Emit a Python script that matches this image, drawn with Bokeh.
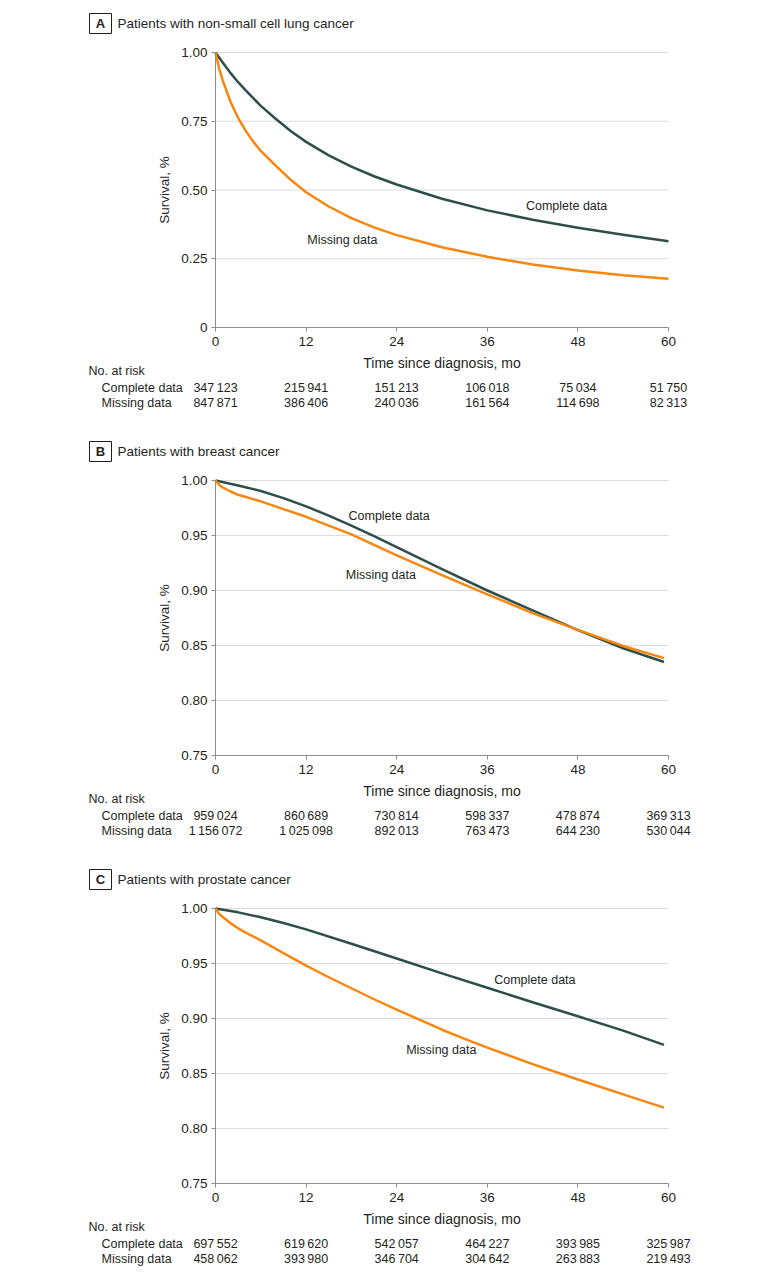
from bokeh.plotting import figure
from bokeh.layouts import column
from bokeh.models import (Range1d, FixedTicker, CustomJSTickFormatter, LinearAxis)
from bokeh.core.properties import value
from bokeh.embed import file_html
from bokeh.resources import INLINE

# ---------------- data ----------------
risk_times = [0, 12, 24, 36, 48, 60]
row_names = ["Complete data", "Missing data"]

a_title = "Patients with non-small cell lung cancer"
a_complete_t = [0, 1, 2, 3, 4, 5, 6, 8, 10, 12, 15, 18, 21, 24, 30, 36, 42, 48, 54, 60]
a_complete_s = [1.0, 0.962, 0.925, 0.892, 0.862, 0.834, 0.806, 0.758, 0.714, 0.675, 0.626,
                0.585, 0.55, 0.52, 0.468, 0.426, 0.392, 0.363, 0.337, 0.314]
a_missing_t = [0, 0.5, 1, 2, 3, 4, 5, 6, 8, 10, 12, 15, 18, 21, 24, 30, 36, 42, 48, 54, 60]
a_missing_s = [1.0, 0.94, 0.895, 0.82, 0.762, 0.715, 0.676, 0.642, 0.588, 0.536, 0.492,
               0.44, 0.398, 0.364, 0.336, 0.292, 0.257, 0.229, 0.207, 0.19, 0.177]
a_risk_complete = [347123, 215941, 151213, 106018, 75034, 51750]
a_risk_missing = [847871, 386406, 240036, 161564, 114698, 82313]
a_yticks = [0, 0.25, 0.5, 0.75, 1.0]

b_title = "Patients with breast cancer"
b_complete_t = [0, 3, 6, 9, 12, 15, 18, 21, 24, 30, 36, 42, 48, 54, 59.4]
b_complete_s = [1.0, 0.9955, 0.9905, 0.984, 0.9765, 0.968, 0.959, 0.9495, 0.9395, 0.9195,
                0.9, 0.882, 0.864, 0.8475, 0.835]
b_missing_t = [0, 0.5, 1, 2, 3, 6, 9, 12, 15, 18, 21, 24, 30, 36, 42, 48, 54, 59.4]
b_missing_s = [1.0, 0.996, 0.9935, 0.99, 0.987, 0.981, 0.974, 0.967, 0.959, 0.951, 0.9415,
               0.932, 0.914, 0.8965, 0.8795, 0.8642, 0.8495, 0.8385]
b_risk_complete = [959024, 860689, 730814, 598337, 478874, 369313]
b_risk_missing = [1156072, 1025098, 892013, 763473, 644230, 530044]
b_yticks = [0.75, 0.80, 0.85, 0.90, 0.95, 1.0]

c_title = "Patients with prostate cancer"
c_complete_t = [0, 3, 6, 9, 12, 18, 24, 30, 36, 42, 48, 54, 59.4]
c_complete_s = [1.0, 0.9965, 0.992, 0.9868, 0.981, 0.968, 0.9545, 0.941, 0.928, 0.9148,
                0.902, 0.889, 0.876]
c_missing_t = [0, 0.5, 1, 2, 3, 4, 6, 9, 12, 15, 18, 21, 24, 27, 30, 33, 36, 42, 48, 54, 59.4]
c_missing_s = [1.0, 0.995, 0.992, 0.9865, 0.982, 0.978, 0.971, 0.9595, 0.948, 0.9375, 0.9275,
               0.9175, 0.908, 0.899, 0.8898, 0.8815, 0.8735, 0.8585, 0.8445, 0.831, 0.819]
c_risk_complete = [697552, 619620, 542057, 464227, 393985, 325987]
c_risk_missing = [458062, 393980, 346704, 304642, 263883, 219493]
c_yticks = [0.75, 0.80, 0.85, 0.90, 0.95, 1.0]

# ---------------- style / layout ----------------
FONT = "Liberation Sans"
TEAL = "#2d4e4b"
ORANGE = "#f7870f"
TXT = "#231f20"
AXIS = "#8c8c8c"
GRID = "#dcdcdc"

FIG_W = 708
LEFT = 215          # canvas px of x = 0
FRAME_W = 453       # px from x = 0 to x = 60
FRAME_H = 275       # px from top tick to bottom tick
TOP = 52            # px above the top tick
PPM = FRAME_W / 60.0


def fmt(n):
    return f"{n:,}".replace(",", "\u2009")


def xw(px):
    return (px - LEFT) / PPM


def txt(p, x, y, s, size="12.5px", align="left", bold=False):
    p.text(x=x, y=y, text=s, text_align=align, text_baseline="middle",
           text_font=value(FONT), text_font_size=size,
           text_font_style="bold" if bold else "normal", text_color=TXT)


def panel(letter, title, ymin, yticks, comp_t, comp_s, miss_t, miss_s,
          comp_lab, miss_lab, risk_c, risk_m, height):
    ppy = FRAME_H / (1.0 - ymin)

    def above(px):
        return 1.0 + px / ppy

    def below(px):
        return ymin - px / ppy

    y_top = above(TOP)
    y_bot = below(height - TOP - FRAME_H)
    p = figure(width=FIG_W, height=height,
               x_range=Range1d(xw(0), xw(FIG_W)), y_range=Range1d(y_bot, y_top),
               x_axis_type=None, y_axis_type=None,
               toolbar_location=None, output_backend="svg",
               min_border=0, min_border_left=0, min_border_right=0,
               min_border_top=0, min_border_bottom=0,
               outline_line_color=None)

    # horizontal grid lines at the y ticks, spanning the time axis
    gy = [t for t in yticks if t != ymin]
    p.segment(x0=[risk_times[0]] * len(gy), x1=[risk_times[-1]] * len(gy), y0=gy, y1=gy,
              line_color=GRID, line_width=1)

    # axes fixed at the data origin
    xa = LinearAxis(fixed_location=ymin, bounds=(risk_times[0], risk_times[-1]),
                    ticker=FixedTicker(ticks=risk_times),
                    axis_label="Time since diagnosis, mo")
    ya = LinearAxis(fixed_location=risk_times[0], bounds=(ymin, 1.0),
                    ticker=FixedTicker(ticks=yticks),
                    formatter=CustomJSTickFormatter(
                        code="return (Math.abs(tick) < 1e-9) ? '0' : tick.toFixed(2);"),
                    axis_label="Survival, %")
    for ax in (xa, ya):
        ax.axis_line_color = AXIS
        ax.major_tick_line_color = AXIS
        ax.minor_tick_line_color = None
        ax.major_tick_out = 4
        ax.major_tick_in = 0
        ax.major_label_text_font = FONT
        ax.major_label_text_font_size = "13.5px"
        ax.major_label_text_color = TXT
        ax.axis_label_text_font = FONT
        ax.axis_label_text_font_style = "normal"
        ax.axis_label_text_color = TXT
    xa.major_label_standoff = 5
    xa.axis_label_text_font_size = "14px"
    xa.axis_label_standoff = 6
    ya.major_label_standoff = 4
    ya.axis_label_text_font_size = "13.5px"
    ya.axis_label_standoff = 6
    p.add_layout(xa, "below")
    p.add_layout(ya, "left")

    # curves
    p.line(comp_t, comp_s, line_color=TEAL, line_width=2.5, line_join="round")
    p.line(miss_t, miss_s, line_color=ORANGE, line_width=2.5, line_join="round")
    txt(p, [comp_lab[0]], [comp_lab[1]], [row_names[0]], align="center")
    txt(p, [miss_lab[0]], [miss_lab[1]], [row_names[1]], align="center")

    # panel header: boxed letter + title
    p.quad(left=[xw(89)], right=[xw(111)], top=[above(39)], bottom=[above(19)],
           fill_color=None, line_color=TXT, line_width=1)
    txt(p, [xw(100)], [above(29)], [letter], size="13px", align="center", bold=True)
    txt(p, [xw(117)], [above(29)], [title], size="13.5px")

    # number at risk table
    txt(p, [xw(88)], [below(43)], ["No. at risk"])
    for off, name, vals in [(60, row_names[0], risk_c), (75, row_names[1], risk_m)]:
        yy = below(off)
        txt(p, [xw(101)], [yy], [name])
        txt(p, risk_times, [yy] * len(vals), [fmt(v) for v in vals], align="center")
    return p


pa = panel("A", a_title, 0, a_yticks, a_complete_t, a_complete_s, a_missing_t, a_missing_s,
           (46.5, 0.441), (16.8, 0.319), a_risk_complete, a_risk_missing, 428)
pb = panel("B", b_title, 0.75, b_yticks, b_complete_t, b_complete_s, b_missing_t, b_missing_s,
           (23.0, 0.968), (21.9, 0.914), b_risk_complete, b_risk_missing, 428)
pc = panel("C", c_title, 0.75, c_yticks, c_complete_t, c_complete_s, c_missing_t, c_missing_s,
           (42.3, 0.935), (29.9, 0.8715), c_risk_complete, c_risk_missing, 414)

layout = column(pa, pb, pc, spacing=0)
open("out.html", "w").write(file_html(layout, INLINE))
